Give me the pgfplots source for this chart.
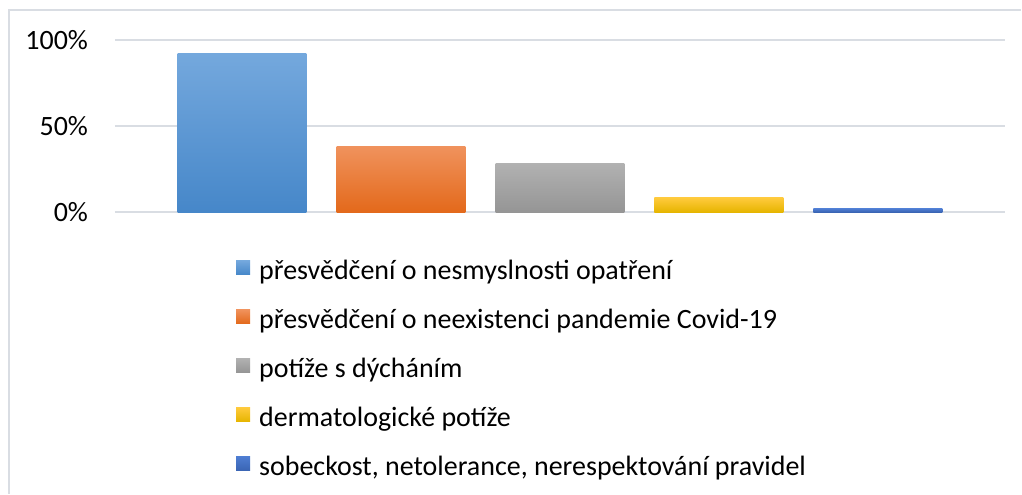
\documentclass[border=0pt]{standalone}
\usepackage{pgfplots}
\pgfplotsset{compat=1.18}
\usepackage{fontspec}
\setmainfont{Carlito}

\definecolor{gridc}{HTML}{D9DDE3}
\definecolor{blueT}{HTML}{74A8DD}\definecolor{blueM}{HTML}{5B9BD5}\definecolor{blueB}{HTML}{4687C9}
\definecolor{oraT}{HTML}{F0925C}\definecolor{oraM}{HTML}{F47E2A}\definecolor{oraB}{HTML}{E3691B}
\definecolor{grT}{HTML}{B1B1B1}\definecolor{grM}{HTML}{A5A5A5}\definecolor{grB}{HTML}{959595}
\definecolor{golT}{HTML}{FFCA3C}\definecolor{golM}{HTML}{FFC000}\definecolor{golB}{HTML}{E6B500}
\definecolor{dbT}{HTML}{4E7DD2}\definecolor{dbM}{HTML}{4472C4}\definecolor{dbB}{HTML}{3A65B4}

\pgfplotsset{
  sq/.style={legend image code/.code={\path[##1, draw=none] (0pt,-1.5pt) rectangle (10.5pt,9pt);}},
}

\begin{document}
\begin{tikzpicture}
\fontsize{21}{25}\selectfont
% whole canvas, 1px = 0.75pt
\path (0,0) rectangle (766.5pt,370.5pt);
\draw[gridc, line width=1.5pt] (6.75pt,0) -- (6.75pt,363pt) -- (766.5pt,363pt);

\begin{axis}[
  at={(86.25pt,211.3pt)}, anchor=south west,
  scale only axis, width=668.25pt, height=129pt,
  xmin=-0.8, xmax=4.8, ymin=0, ymax=1,
  ybar, bar width=96.75pt, /pgf/bar shift=0pt,
  axis line style={draw=none},
  major tick length=0pt,
  xtick=\empty,
  ytick={0,0.5,1},
  yticklabels={0\%,50\%,100\%},
  yticklabel style={anchor=east, inner sep=0pt, xshift=-20pt},
  ymajorgrids=true,
  grid style={gridc, line width=1.4pt},
  legend style={at={(0.1315,-0.258)}, anchor=north west, draw=none, fill=none,
    nodes={inner sep=0pt, anchor=west, text height=15pt, text depth=5pt},
    row sep=16.75pt, column sep=6.75pt, font=\fontsize{21}{25}\selectfont},
  legend cell align=left,
]
\addplot[sq, draw=none, top color=blueT, middle color=blueM, bottom color=blueB] coordinates {(0,0.92)};
\addlegendentry{přesvědčení o nesmyslnosti opatření}
\addplot[sq, draw=none, top color=oraT, middle color=oraM, bottom color=oraB] coordinates {(1,0.38)};
\addlegendentry{přesvědčení o neexistenci pandemie Covid-19}
\addplot[sq, draw=none, top color=grT, middle color=grM, bottom color=grB] coordinates {(2,0.28)};
\addlegendentry{potíže s dýcháním}
\addplot[sq, draw=none, top color=golT, middle color=golM, bottom color=golB] coordinates {(3,0.083)};
\addlegendentry{dermatologické potíže}
\addplot[sq, draw=none, top color=dbT, middle color=dbM, bottom color=dbB] coordinates {(4,0.02)};
\addlegendentry{sobeckost, netolerance, nerespektování pravidel}
\end{axis}
\end{tikzpicture}
\end{document}
